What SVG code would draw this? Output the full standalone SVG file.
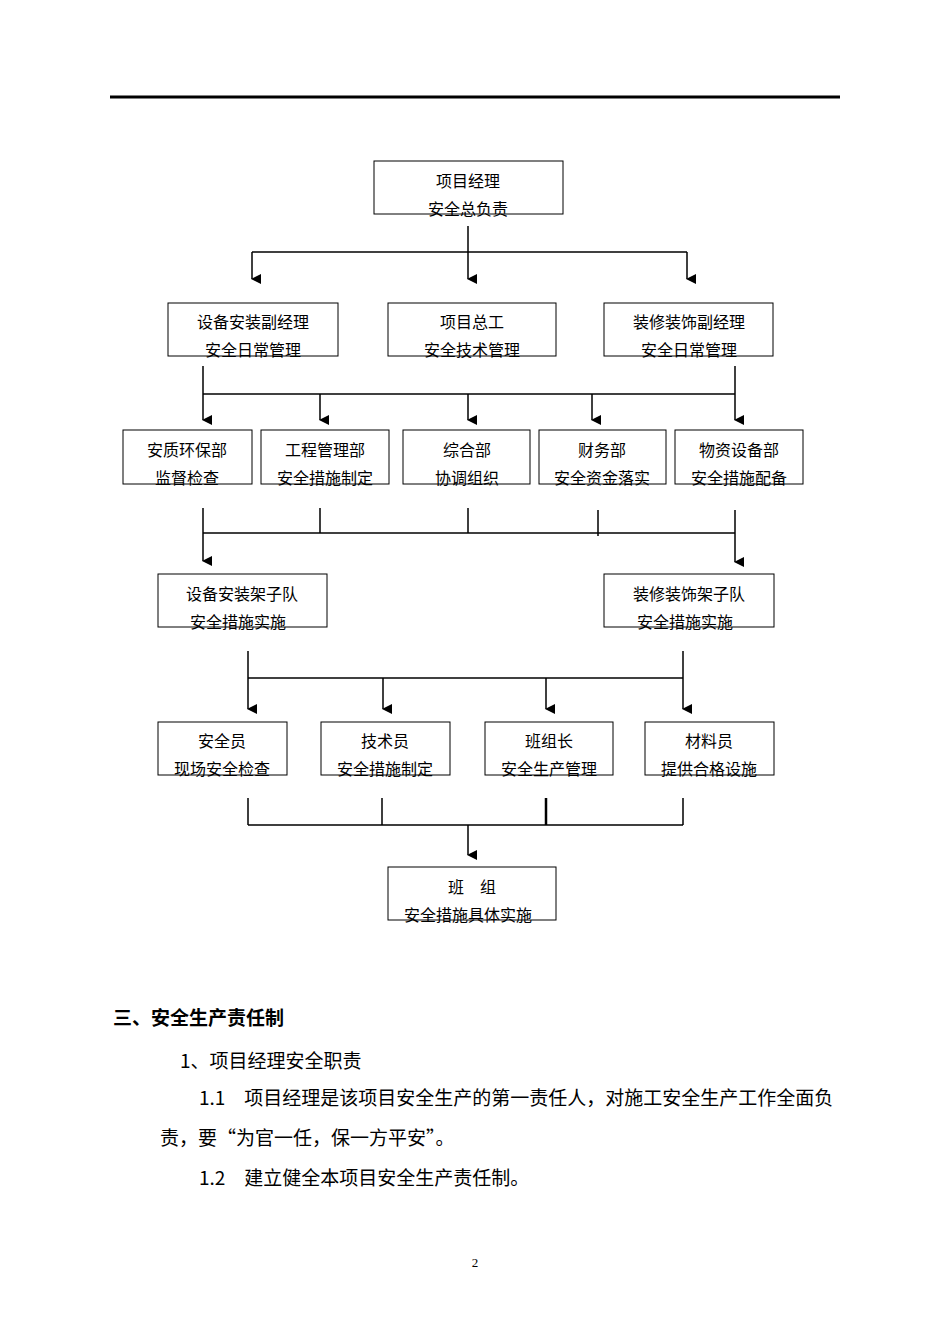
<svg xmlns="http://www.w3.org/2000/svg" width="950" height="1344" viewBox="0 0 950 1344">
<style>
.b{fill:#fff;stroke:#000;stroke-width:1}
.t{font-family:"Noto Sans CJK SC","Noto Sans",sans-serif;font-size:16px;text-anchor:middle;fill:#000}
.l{stroke:#000;stroke-width:1.5;fill:none}
.p{font-family:"Noto Sans CJK SC","Noto Sans",sans-serif;font-size:19px;fill:#000}
</style>
<defs><marker id="a" markerWidth="10" markerHeight="10" refX="5" refY="9" orient="auto" markerUnits="userSpaceOnUse"><path d="M0,0 L10,0 L5,10 z" fill="#000"/></marker></defs>
<rect x="110" y="95.5" width="730" height="3" fill="#000"/>
<g id="connectors" class="l">
<path d="M468,226 V279" marker-end="url(#a)"/>
<path d="M252,252 H687"/>
<path d="M252,252 V279" marker-end="url(#a)"/>
<path d="M687,252 V279" marker-end="url(#a)"/>
<path d="M203,366 V420" marker-end="url(#a)"/>
<path d="M735,366 V420" marker-end="url(#a)"/>
<path d="M203,394 H735"/>
<path d="M320,394 V420" marker-end="url(#a)"/>
<path d="M468,394 V420" marker-end="url(#a)"/>
<path d="M592,394 V420" marker-end="url(#a)"/>
<path d="M203,508 V561" marker-end="url(#a)"/>
<path d="M735,510 V562" marker-end="url(#a)"/>
<path d="M203,533 H735"/>
<path d="M320,508 V533 M468,508 V533 M598,510 V536"/>
<path d="M248,651 V709" marker-end="url(#a)"/>
<path d="M683,651 V709" marker-end="url(#a)"/>
<path d="M248,678 H683"/>
<path d="M383,678 V709" marker-end="url(#a)"/>
<path d="M546,678 V709" marker-end="url(#a)"/>
<path d="M248,798 V825 M382,798 V825 M683,798 V825 M248,825 H683"/>
<path d="M546,798 V825" stroke-width="2.5"/>
<path d="M468,825 V855" marker-end="url(#a)"/>
</g>
<g id="n1"><rect class="b" x="374" y="161" width="189" height="53"/><text class="t" x="468" y="187">项目经理</text><text class="t" x="468" y="215">安全总负责</text></g>
<g id="n2"><rect class="b" x="168" y="303" width="170" height="53"/><text class="t" x="253" y="328">设备安装副经理</text><text class="t" x="253" y="356">安全日常管理</text></g>
<g id="n3"><rect class="b" x="388" y="303" width="168" height="53"/><text class="t" x="472" y="328">项目总工</text><text class="t" x="472" y="356">安全技术管理</text></g>
<g id="n4"><rect class="b" x="604" y="303" width="169" height="53"/><text class="t" x="689" y="328">装修装饰副经理</text><text class="t" x="689" y="356">安全日常管理</text></g>
<g id="n5"><rect class="b" x="123" y="430" width="129" height="54"/><text class="t" x="187" y="456">安质环保部</text><text class="t" x="187" y="484">监督检查</text></g>
<g id="n6"><rect class="b" x="261" y="430" width="128" height="54"/><text class="t" x="325" y="456">工程管理部</text><text class="t" x="325" y="484">安全措施制定</text></g>
<g id="n7"><rect class="b" x="403" y="430" width="127" height="54"/><text class="t" x="467" y="456">综合部</text><text class="t" x="467" y="484">协调组织</text></g>
<g id="n8"><rect class="b" x="539" y="430" width="127" height="54"/><text class="t" x="602" y="456">财务部</text><text class="t" x="602" y="484">安全资金落实</text></g>
<g id="n9"><rect class="b" x="675" y="430" width="128" height="54"/><text class="t" x="739" y="456">物资设备部</text><text class="t" x="739" y="484">安全措施配备</text></g>
<g id="n10"><rect class="b" x="158" y="574" width="169" height="53"/><text class="t" x="242" y="600">设备安装架子队</text><text class="t" x="238" y="628">安全措施实施</text></g>
<g id="n11"><rect class="b" x="604" y="574" width="170" height="53"/><text class="t" x="689" y="600">装修装饰架子队</text><text class="t" x="685" y="628">安全措施实施</text></g>
<g id="n12"><rect class="b" x="158" y="722" width="129" height="53"/><text class="t" x="222" y="747">安全员</text><text class="t" x="222" y="775">现场安全检查</text></g>
<g id="n13"><rect class="b" x="321" y="722" width="129" height="53"/><text class="t" x="385" y="747">技术员</text><text class="t" x="385" y="775">安全措施制定</text></g>
<g id="n14"><rect class="b" x="485" y="722" width="128" height="53"/><text class="t" x="549" y="747">班组长</text><text class="t" x="549" y="775">安全生产管理</text></g>
<g id="n15"><rect class="b" x="645" y="722" width="129" height="53"/><text class="t" x="709" y="747">材料员</text><text class="t" x="709" y="775">提供合格设施</text></g>
<g id="n16"><rect class="b" x="388" y="867" width="168" height="53"/><text class="t" x="472" y="893">班　组</text><text class="t" x="468" y="921">安全措施具体实施</text></g>
<text class="p" x="113" y="1025" font-weight="bold" font-size="18">三、安全生产责任制</text>
<text class="p" x="180" y="1068">1、项目经理安全职责</text>
<text class="p" x="199" y="1105">1.1　项目经理是该项目安全生产的第一责任人，对施工安全生产工作全面负</text>
<text class="p" x="160" y="1145">责，要“为官一任，保一方平安”。</text>
<text class="p" x="199" y="1185">1.2　建立健全本项目安全生产责任制。</text>
<text x="475" y="1267" font-family="Liberation Serif,serif" font-size="13" text-anchor="middle">2</text>
</svg>
